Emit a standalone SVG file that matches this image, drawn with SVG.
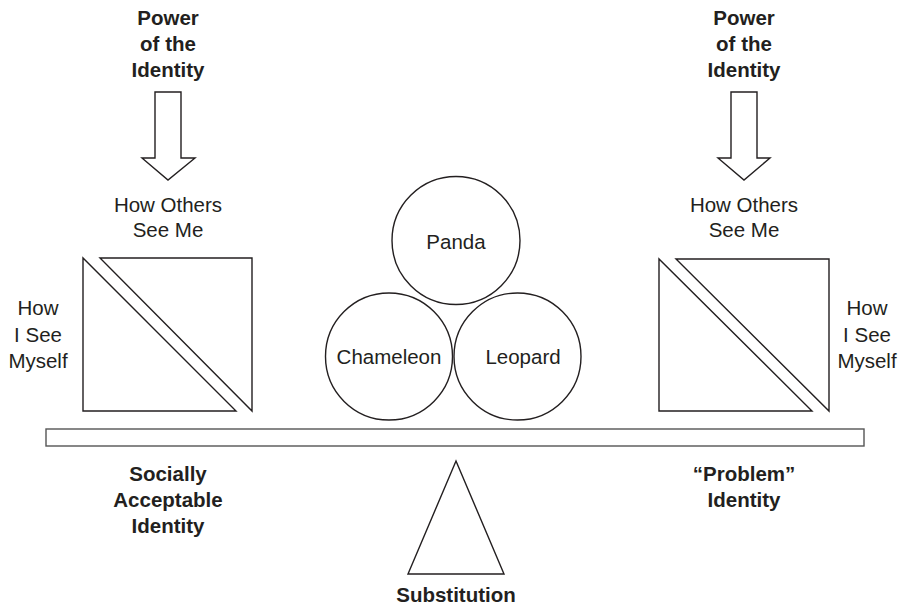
<svg xmlns="http://www.w3.org/2000/svg" width="904" height="607" viewBox="0 0 904 607">
<style>
.s{fill:#fff;stroke:#231f20;stroke-width:1.4;stroke-linejoin:miter}
.t{font-family:"Liberation Sans",Arial,sans-serif;font-size:20.5px;fill:#231f20;text-anchor:middle}
.b{font-weight:bold}
</style>
<rect width="904" height="607" fill="#fff"/>
<g id="beam">
<rect class="s" x="46" y="429" width="818" height="17" style="stroke:#555"/>
</g>
<g id="fulcrum">
<polygon class="s" points="456,461 504,574 408,574"/>
<text class="t b" x="456" y="602">Substitution</text>
</g>
<g id="left-power">
<text class="t b" x="168" y="25">Power</text>
<text class="t b" x="168" y="51">of the</text>
<text class="t b" x="168" y="77">Identity</text>
<polygon class="s" points="155,92 181,92 181,158 195,158 168,180 142,158 155,158"/>
</g>
<g id="right-power">
<text class="t b" x="744" y="25">Power</text>
<text class="t b" x="744" y="51">of the</text>
<text class="t b" x="744" y="77">Identity</text>
<polygon class="s" points="731,92 757,92 757,158 770,158 744,180 718,158 731,158"/>
</g>
<g id="left-square">
<text class="t" x="168" y="212">How Others</text>
<text class="t" x="168" y="237">See Me</text>
<polygon class="s" points="83,258 83,411 236,411"/>
<polygon class="s" points="100,258 252,258 252,411"/>
<text class="t" x="38" y="315">How</text>
<text class="t" x="38" y="342">I See</text>
<text class="t" x="38" y="368">Myself</text>
</g>
<g id="right-square">
<text class="t" x="744" y="212">How Others</text>
<text class="t" x="744" y="237">See Me</text>
<polygon class="s" points="659,259 659,411 812,411"/>
<polygon class="s" points="676,259 829,259 829,411"/>
<text class="t" x="867" y="315">How</text>
<text class="t" x="867" y="342">I See</text>
<text class="t" x="867" y="368">Myself</text>
</g>
<g id="panda">
<circle class="s" cx="456" cy="240.5" r="64"/>
<text class="t" x="456" y="249">Panda</text>
</g>
<g id="chameleon">
<circle class="s" cx="389" cy="356.5" r="63.5"/>
<text class="t" x="389" y="364">Chameleon</text>
</g>
<g id="leopard">
<circle class="s" cx="517.5" cy="356.5" r="63.5"/>
<text class="t" x="523" y="364">Leopard</text>
</g>
<g id="left-label">
<text class="t b" x="168" y="481">Socially</text>
<text class="t b" x="168" y="507">Acceptable</text>
<text class="t b" x="168" y="533">Identity</text>
</g>
<g id="right-label">
<text class="t b" x="744" y="481">“Problem”</text>
<text class="t b" x="744" y="507">Identity</text>
</g>
<g id="connectors"></g>
</svg>
